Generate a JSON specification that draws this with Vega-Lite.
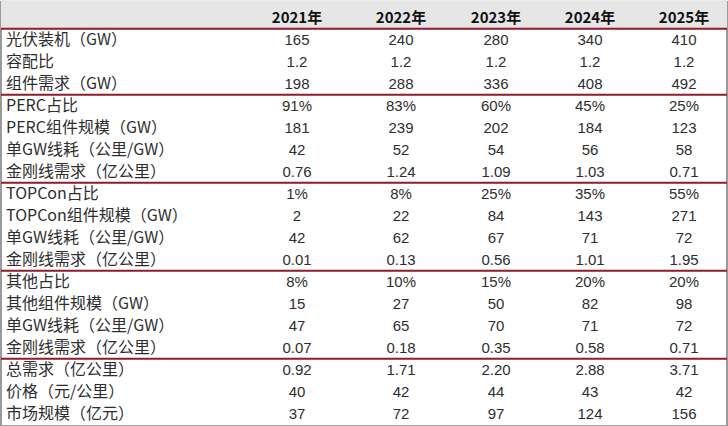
{
  "$schema": "https://vega.github.io/schema/vega-lite/v6.json",
  "width": 728,
  "height": 426,
  "autosize": {"type": "fit", "contains": "padding"},
  "padding": 0,
  "background": "#ffffff",
  "config": {"view": {"stroke": "#9a9a9a", "strokeWidth": 2}},
  "datasets": {
    "cells": [
      {"r": 0, "c": 1, "t": "2021年"}, {"r": 0, "c": 2, "t": "2022年"}, {"r": 0, "c": 3, "t": "2023年"}, {"r": 0, "c": 4, "t": "2024年"}, {"r": 0, "c": 5, "t": "2025年"},
      {"r": 1, "c": 0, "t": "光伏装机（GW）"}, {"r": 1, "c": 1, "t": "165"}, {"r": 1, "c": 2, "t": "240"}, {"r": 1, "c": 3, "t": "280"}, {"r": 1, "c": 4, "t": "340"}, {"r": 1, "c": 5, "t": "410"},
      {"r": 2, "c": 0, "t": "容配比"}, {"r": 2, "c": 1, "t": "1.2"}, {"r": 2, "c": 2, "t": "1.2"}, {"r": 2, "c": 3, "t": "1.2"}, {"r": 2, "c": 4, "t": "1.2"}, {"r": 2, "c": 5, "t": "1.2"},
      {"r": 3, "c": 0, "t": "组件需求（GW）"}, {"r": 3, "c": 1, "t": "198"}, {"r": 3, "c": 2, "t": "288"}, {"r": 3, "c": 3, "t": "336"}, {"r": 3, "c": 4, "t": "408"}, {"r": 3, "c": 5, "t": "492"},
      {"r": 4, "c": 0, "t": "PERC占比"}, {"r": 4, "c": 1, "t": "91%"}, {"r": 4, "c": 2, "t": "83%"}, {"r": 4, "c": 3, "t": "60%"}, {"r": 4, "c": 4, "t": "45%"}, {"r": 4, "c": 5, "t": "25%"},
      {"r": 5, "c": 0, "t": "PERC组件规模（GW）"}, {"r": 5, "c": 1, "t": "181"}, {"r": 5, "c": 2, "t": "239"}, {"r": 5, "c": 3, "t": "202"}, {"r": 5, "c": 4, "t": "184"}, {"r": 5, "c": 5, "t": "123"},
      {"r": 6, "c": 0, "t": "单GW线耗（公里/GW）"}, {"r": 6, "c": 1, "t": "42"}, {"r": 6, "c": 2, "t": "52"}, {"r": 6, "c": 3, "t": "54"}, {"r": 6, "c": 4, "t": "56"}, {"r": 6, "c": 5, "t": "58"},
      {"r": 7, "c": 0, "t": "金刚线需求（亿公里）"}, {"r": 7, "c": 1, "t": "0.76"}, {"r": 7, "c": 2, "t": "1.24"}, {"r": 7, "c": 3, "t": "1.09"}, {"r": 7, "c": 4, "t": "1.03"}, {"r": 7, "c": 5, "t": "0.71"},
      {"r": 8, "c": 0, "t": "TOPCon占比"}, {"r": 8, "c": 1, "t": "1%"}, {"r": 8, "c": 2, "t": "8%"}, {"r": 8, "c": 3, "t": "25%"}, {"r": 8, "c": 4, "t": "35%"}, {"r": 8, "c": 5, "t": "55%"},
      {"r": 9, "c": 0, "t": "TOPCon组件规模（GW）"}, {"r": 9, "c": 1, "t": "2"}, {"r": 9, "c": 2, "t": "22"}, {"r": 9, "c": 3, "t": "84"}, {"r": 9, "c": 4, "t": "143"}, {"r": 9, "c": 5, "t": "271"},
      {"r": 10, "c": 0, "t": "单GW线耗（公里/GW）"}, {"r": 10, "c": 1, "t": "42"}, {"r": 10, "c": 2, "t": "62"}, {"r": 10, "c": 3, "t": "67"}, {"r": 10, "c": 4, "t": "71"}, {"r": 10, "c": 5, "t": "72"},
      {"r": 11, "c": 0, "t": "金刚线需求（亿公里）"}, {"r": 11, "c": 1, "t": "0.01"}, {"r": 11, "c": 2, "t": "0.13"}, {"r": 11, "c": 3, "t": "0.56"}, {"r": 11, "c": 4, "t": "1.01"}, {"r": 11, "c": 5, "t": "1.95"},
      {"r": 12, "c": 0, "t": "其他占比"}, {"r": 12, "c": 1, "t": "8%"}, {"r": 12, "c": 2, "t": "10%"}, {"r": 12, "c": 3, "t": "15%"}, {"r": 12, "c": 4, "t": "20%"}, {"r": 12, "c": 5, "t": "20%"},
      {"r": 13, "c": 0, "t": "其他组件规模（GW）"}, {"r": 13, "c": 1, "t": "15"}, {"r": 13, "c": 2, "t": "27"}, {"r": 13, "c": 3, "t": "50"}, {"r": 13, "c": 4, "t": "82"}, {"r": 13, "c": 5, "t": "98"},
      {"r": 14, "c": 0, "t": "单GW线耗（公里/GW）"}, {"r": 14, "c": 1, "t": "47"}, {"r": 14, "c": 2, "t": "65"}, {"r": 14, "c": 3, "t": "70"}, {"r": 14, "c": 4, "t": "71"}, {"r": 14, "c": 5, "t": "72"},
      {"r": 15, "c": 0, "t": "金刚线需求（亿公里）"}, {"r": 15, "c": 1, "t": "0.07"}, {"r": 15, "c": 2, "t": "0.18"}, {"r": 15, "c": 3, "t": "0.35"}, {"r": 15, "c": 4, "t": "0.58"}, {"r": 15, "c": 5, "t": "0.71"},
      {"r": 16, "c": 0, "t": "总需求（亿公里）"}, {"r": 16, "c": 1, "t": "0.92"}, {"r": 16, "c": 2, "t": "1.71"}, {"r": 16, "c": 3, "t": "2.20"}, {"r": 16, "c": 4, "t": "2.88"}, {"r": 16, "c": 5, "t": "3.71"},
      {"r": 17, "c": 0, "t": "价格（元/公里）"}, {"r": 17, "c": 1, "t": "40"}, {"r": 17, "c": 2, "t": "42"}, {"r": 17, "c": 3, "t": "44"}, {"r": 17, "c": 4, "t": "43"}, {"r": 17, "c": 5, "t": "42"},
      {"r": 18, "c": 0, "t": "市场规模（亿元）"}, {"r": 18, "c": 1, "t": "37"}, {"r": 18, "c": 2, "t": "72"}, {"r": 18, "c": 3, "t": "97"}, {"r": 18, "c": 4, "t": "124"}, {"r": 18, "c": 5, "t": "156"}
    ],
    "separators": [{"at": 0.5}, {"at": 3.5}, {"at": 7.5}, {"at": 11.5}, {"at": 15.5}],
    "headerband": [{"top": -0.8, "bottom": 0.5}]
  },
  "layer": [
    {
      "data": {"name": "headerband"},
      "mark": {"type": "rect", "color": "#e6e6e6"},
      "encoding": {
        "y": {"field": "top", "type": "quantitative", "scale": {"domain": [-0.72, 18.56], "reverse": true, "nice": false, "zero": false}, "axis": null},
        "y2": {"field": "bottom"}
      }
    },
    {
      "data": {"name": "separators"},
      "mark": {"type": "rule", "color": "#8b1d2c", "strokeWidth": 2},
      "encoding": {
        "y": {"field": "at", "type": "quantitative"}
      }
    },
    {
      "data": {"name": "cells"},
      "transform": [{"filter": "datum.c == 0"}],
      "mark": {"type": "text", "align": "left", "baseline": "middle", "font": "Noto Sans CJK SC", "fontSize": 16, "color": "#2e2e2e"},
      "encoding": {
        "x": {"field": "c", "type": "quantitative", "scale": {"domain": [0, 1, 2, 3, 4, 5], "range": [5, 296, 400, 495, 589, 683]}, "axis": null},
        "y": {"field": "r", "type": "quantitative"},
        "text": {"field": "t"}
      }
    },
    {
      "data": {"name": "cells"},
      "transform": [{"filter": "datum.c > 0 && datum.r > 0"}],
      "mark": {"type": "text", "align": "center", "baseline": "middle", "font": "Liberation Sans", "fontSize": 15, "color": "#2e2e2e"},
      "encoding": {
        "x": {"field": "c", "type": "quantitative"},
        "y": {"field": "r", "type": "quantitative"},
        "text": {"field": "t"}
      }
    },
    {
      "data": {"name": "cells"},
      "transform": [{"filter": "datum.r == 0"}],
      "mark": {"type": "text", "align": "center", "baseline": "middle", "font": "Noto Sans CJK SC", "fontWeight": "bold", "fontSize": 15, "color": "#111111"},
      "encoding": {
        "x": {"field": "c", "type": "quantitative"},
        "y": {"field": "r", "type": "quantitative"},
        "text": {"field": "t"}
      }
    }
  ]
}
